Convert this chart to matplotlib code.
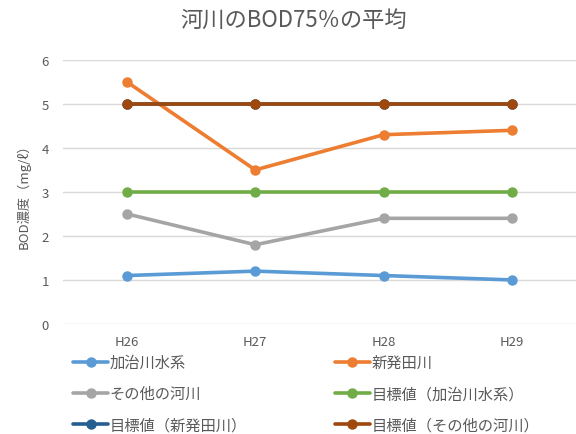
import matplotlib.pyplot as plt
import numpy as np

plt.rcParams['font.family'] = ['Noto Sans CJK JP', 'DejaVu Sans']

years = ['H26', 'H27', 'H28', 'H29']
kaji = [1.1, 1.2, 1.1, 1.0]
shibata = [5.5, 3.5, 4.3, 4.4]
other = [2.5, 1.8, 2.4, 2.4]
goal_kaji = [3, 3, 3, 3]
goal_shibata = [5, 5, 5, 5]
goal_other = [5, 5, 5, 5]

fig = plt.figure(figsize=(5.76, 4.35), dpi=100)
ax = fig.add_axes([0.109, 0.253, 0.891, 0.607])

x = np.arange(len(years))
style = dict(lw=2.6, marker='o', ms=6.5, solid_capstyle='round')
h_kaji, = ax.plot(x, kaji, color='#5B9BD5', label='加治川水系', **style)
h_shibata, = ax.plot(x, shibata, color='#ED7D31', label='新発田川', **style)
h_other, = ax.plot(x, other, color='#A5A5A5', label='その他の河川', **style)
h_gk, = ax.plot(x, goal_kaji, color='#70AD47', label='目標値（加治川水系）', **style)
h_gs, = ax.plot(x, goal_shibata, color='#255E91', label='目標値（新発田川）', **style)
h_go, = ax.plot(x, goal_other, color='#9E480E', label='目標値（その他の河川）', **style)

ax.set_xlim(-0.5, 3.5)
ax.set_ylim(0, 6)
ax.set_yticks(range(7))
ax.set_xticks(x)
ax.set_xticklabels(years)
ax.grid(axis='y', color='#D9D9D9', lw=1)
ax.set_axisbelow(True)
for s in ax.spines.values():
    s.set_visible(False)
ax.tick_params(length=0, colors='#595959', labelsize=9.5)
ax.tick_params(axis='x', pad=8)
ax.tick_params(axis='y', pad=10)
ax.set_ylabel('BOD濃度（mg/ℓ）', color='#595959', fontsize=9.5, labelpad=8)

fig.suptitle('河川のBOD75％の平均', x=0.51, y=0.98, fontsize=16, color='#595959')

handles = [h_kaji, h_other, h_gs, h_shibata, h_gk, h_go]
fig.legend(handles=handles, labels=[h.get_label() for h in handles], ncol=2,
           loc='lower left', bbox_to_anchor=(0.103, -0.03), frameon=False,
           fontsize=11, labelcolor='#595959', handlelength=2.3, handletextpad=0.1,
           columnspacing=5.75, labelspacing=0.92)

fig.savefig('out.png', dpi=100)
